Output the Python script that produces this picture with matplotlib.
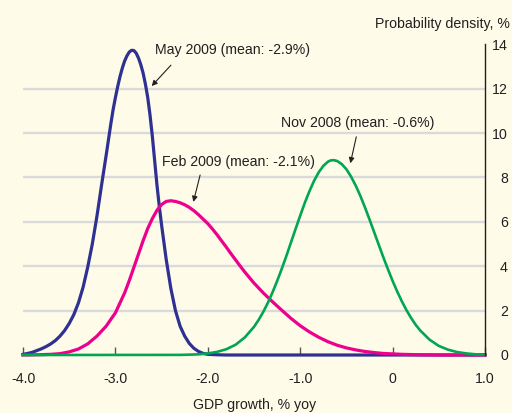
import matplotlib
matplotlib.use("Agg")
import matplotlib.pyplot as plt

# ---- data ----
blue_x = [-4.0, -3.95, -3.9, -3.85, -3.8, -3.75, -3.7, -3.65, -3.6, -3.55, -3.5,
          -3.45, -3.4, -3.35, -3.3, -3.25, -3.2, -3.15, -3.1, -3.075, -3.05, -3.025,
          -3.0, -2.975, -2.95, -2.925, -2.9, -2.875, -2.85, -2.825, -2.8, -2.775,
          -2.75, -2.725, -2.7, -2.675, -2.65, -2.625, -2.6, -2.575, -2.55, -2.525,
          -2.5, -2.45, -2.4, -2.35, -2.3, -2.25, -2.2, -2.15, -2.1, -2.05, -2.0,
          -1.9, -1.8, 1.0]
blue_y = [0.03, 0.07, 0.12, 0.2, 0.28, 0.38, 0.5, 0.65, 0.85, 1.1, 1.42,
          1.82, 2.35, 3.05, 3.95, 5.0, 6.25, 7.65, 9.0, 9.7, 10.4, 11.05,
          11.6, 12.1, 12.55, 12.93, 13.25, 13.48, 13.65, 13.73, 13.72, 13.6,
          13.38, 13.08, 12.7, 12.2, 11.6, 10.8, 9.85, 8.75, 7.65, 6.7,
          5.85, 4.3, 3.0, 2.0, 1.3, 0.85, 0.52, 0.3, 0.16, 0.07, 0.03,
          0.01, 0.0, 0.0]

mag_x = [-4.0, -3.9, -3.8, -3.7, -3.6, -3.5, -3.4, -3.3, -3.2, -3.1, -3.0, -2.9,
         -2.85, -2.8, -2.75, -2.7, -2.65, -2.6, -2.55, -2.5, -2.45, -2.4, -2.35,
         -2.3, -2.25, -2.2, -2.15, -2.1, -2.05, -2.0, -1.95, -1.9, -1.85, -1.8,
         -1.75, -1.7, -1.65, -1.6, -1.5, -1.4, -1.3, -1.2, -1.1, -1.0, -0.9, -0.8,
         -0.7, -0.6, -0.5, -0.4, -0.3, -0.2, -0.1, 0.0, 0.1, 0.2, 0.3, 0.4, 0.5, 1.0]
mag_y = [0.0, 0.005, 0.015, 0.03, 0.06, 0.14, 0.27, 0.5, 0.85, 1.3, 1.9, 2.8,
         3.35, 3.95, 4.55, 5.15, 5.7, 6.15, 6.52, 6.78, 6.92, 6.95, 6.92,
         6.86, 6.77, 6.65, 6.5, 6.32, 6.12, 5.92, 5.68, 5.42, 5.14, 4.86,
         4.57, 4.29, 4.01, 3.74, 3.24, 2.8, 2.4, 2.02, 1.65, 1.32, 1.04, 0.8,
         0.6, 0.44, 0.32, 0.23, 0.16, 0.11, 0.07, 0.05, 0.03, 0.02, 0.01, 0.005, 0.0, 0.0]

green_x = [-4.0, -2.3, -2.2, -2.1, -2.0, -1.9, -1.8, -1.7, -1.6, -1.5, -1.45, -1.4,
           -1.35, -1.3, -1.25, -1.2, -1.15, -1.1, -1.05, -1.0, -0.95, -0.9, -0.85,
           -0.8, -0.75, -0.7, -0.675, -0.65, -0.625, -0.6, -0.55, -0.5, -0.45,
           -0.4, -0.35, -0.3, -0.25, -0.2, -0.15, -0.1, -0.05, 0.0, 0.05, 0.1,
           0.15, 0.2, 0.25, 0.3, 0.4, 0.5, 0.6, 0.7, 0.8, 0.9, 1.0]
green_y = [0.0, 0.005, 0.015, 0.03, 0.07, 0.14, 0.26, 0.46, 0.79, 1.27, 1.58, 1.94,
           2.35, 2.82, 3.33, 3.88, 4.46, 5.07, 5.68, 6.28, 6.86, 7.38, 7.85,
           8.23, 8.52, 8.71, 8.76, 8.78, 8.77, 8.74, 8.6, 8.37, 8.04,
           7.64, 7.18, 6.66, 6.11, 5.54, 4.97, 4.40, 3.86, 3.34, 2.86, 2.42,
           2.02, 1.67, 1.36, 1.10, 0.69, 0.41, 0.24, 0.13, 0.07, 0.03, 0.02]

x_ticks = [-4, -3, -2, -1, 0, 1]
x_tick_labels = ["-4.0", "-3.0", "-2.0", "-1.0", "0", "1.0"]
y_ticks = [0, 2, 4, 6, 8, 10, 12, 14]
y_tick_labels = ["0", "2", "4", "6", "8", "10", "12", "14"]

labels = ["May 2009 (mean: -2.9%)", "Feb 2009 (mean: -2.1%)", "Nov 2008 (mean: -0.6%)"]

# ---- styling ----
bg = "#fefbe9"
txt = "#231f20"
plt.rcParams["font.family"] = ["Liberation Sans", "DejaVu Sans"]
fs = 10.2

fig = plt.figure(figsize=(5.12, 4.13), dpi=100, facecolor=bg)
ax = fig.add_axes([23 / 512, 58 / 413, 462 / 512, (355 - 44.3) / 413])
ax.set_facecolor(bg)
ax.set_xlim(-4, 1)
ax.set_ylim(0, 14)

for y in y_ticks[1:-1]:
    ax.axhline(y, color="#dadada", lw=1.7, zorder=0)

ax.plot(blue_x, blue_y, color="#2e3192", lw=2.3, zorder=3, clip_on=False,
        solid_joinstyle="round")
ax.plot(mag_x, mag_y, color="#ec008c", lw=2.3, zorder=4, clip_on=False,
        solid_joinstyle="round")
ax.plot(green_x, green_y, color="#00a651", lw=1.9, zorder=5, clip_on=False,
        solid_joinstyle="round")

for s in ["left", "top", "bottom"]:
    ax.spines[s].set_visible(False)
ax.spines["right"].set_color(txt)
ax.spines["right"].set_linewidth(1.0)
ax.spines["right"].set_zorder(6)

ax.set_xticks(x_ticks)
ax.set_xticklabels(x_tick_labels, fontsize=fs, color=txt)
ax.tick_params(axis="x", direction="in", length=6, width=1, color="#555555", pad=12)

ax.yaxis.tick_right()
ax.set_yticks(y_ticks)
ax.set_yticklabels(y_tick_labels, fontsize=fs, color=txt)
ax.tick_params(axis="y", length=0, pad=16.5)
for lab in ax.get_yticklabels():
    lab.set_horizontalalignment("right")

fig.text(510 / 512, (413 - 28) / 413, "Probability density, %", ha="right",
         va="baseline", fontsize=fs, color=txt)
fig.text(255 / 512, (413 - 409) / 413, "GDP growth, % yoy", ha="center",
         va="baseline", fontsize=fs, color=txt)

# annotations: (text pos), (arrow tail), (arrow tip)
ann = [
    (labels[0], (-2.571, 13.74), (-2.399, 13.06), (-2.607, 12.12)),
    (labels[1], (-2.496, 8.69), (-2.083, 8.11), (-2.156, 6.9)),
    (labels[2], (-1.205, 10.45), (-0.393, 9.83), (-0.457, 8.64)),
]
for lab, tpos, tail, tip in ann:
    ax.text(tpos[0], tpos[1], lab, ha="left", va="center", fontsize=fs, color=txt,
            zorder=7)
    ax.annotate("", xy=tip, xytext=tail,
                arrowprops=dict(arrowstyle="-|>", color=txt, lw=0.8,
                                mutation_scale=8, shrinkA=0, shrinkB=0),
                zorder=7)

fig.savefig("out.png", dpi=100, facecolor=bg)
